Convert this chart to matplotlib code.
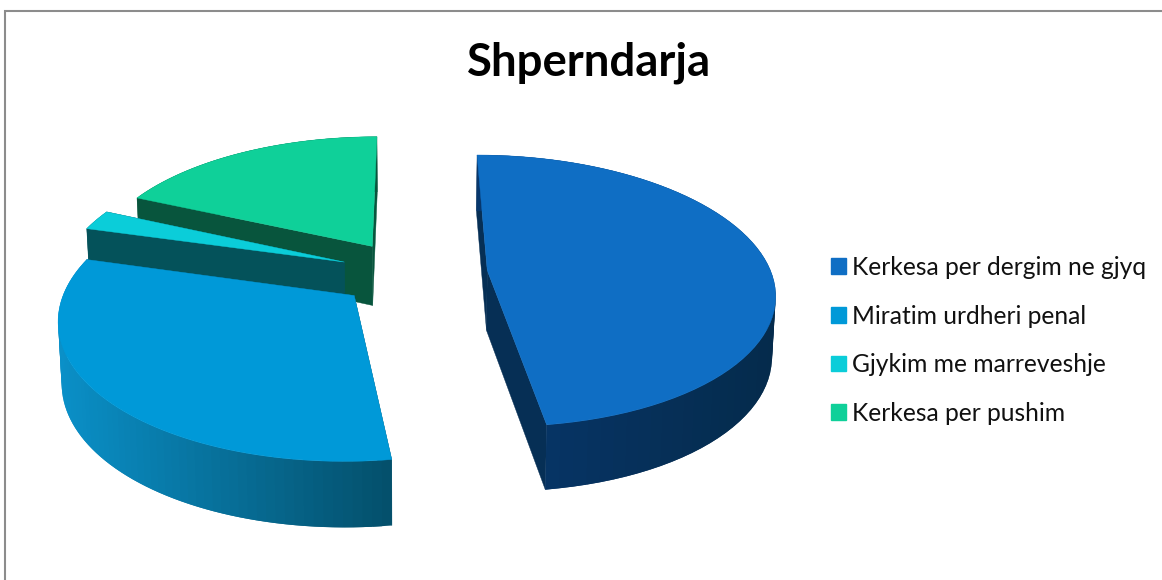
import matplotlib
matplotlib.use("Agg")
import matplotlib.pyplot as plt
import numpy as np
from matplotlib.colors import to_rgb
from matplotlib.patches import Patch, Polygon

plt.rcParams["font.family"] = ["Lato", "DejaVu Sans"]

# chart data
labels = ["Kerkesa per dergim ne gjyq", "Miratim urdheri penal", "Gjykim me marreveshje", "Kerkesa per pushim"]
values = [47.8, 31.5, 2.4, 18.3]

# look of the slices
top_colors = ["#0f6ec4", "#0099d8", "#0bcdd9", "#0fd099"]
cut_colors = ["#062f55", "#04526a", "#04525a", "#08553d"]
side_left = ["#07376d", "#0a90c8", "#04525a", "#08553d"]
side_right = ["#052b4c", "#04506c", "#04525a", "#08553d"]
explode = [0.277, 0.25, 0.245, 0.245]

# fake 3d camera, all in pixels
CX, CY = 409, 273
R = 284
TILT = 0.47
PERSP = 0.15
DEPTH = 60
START = 0.0


def project(u, v, bottom=False):
    """Pie plane (u right, v back, unit = radius) to screen pixels."""
    s = 1 / (1 + PERSP * v)
    x = CX + R * u * s
    y = CY - R * TILT * v * s
    if bottom:
        x = CX + (x - CX) * 0.99
        y = y + DEPTH * np.sqrt(s)
    return x, y


def draw_slice(ax, i, a0, a1):
    mid = np.radians((a0 + a1) / 2)
    ou, ov = explode[i] * np.sin(mid), explode[i] * np.cos(mid)
    th = np.radians(np.linspace(a0, a1, 70))
    ru, rv = ou + np.sin(th), ov + np.cos(th)

    tx, ty = project(ru, rv)
    bx, by = project(ru, rv, bottom=True)
    ax_t, ay_t = project(ou, ov)
    ax_b, ay_b = project(ou, ov, bottom=True)

    # cut walls
    for k in (0, -1):
        pts = [(ax_t, ay_t), (tx[k], ty[k]), (bx[k], by[k]), (ax_b, ay_b)]
        ax.add_patch(Polygon(pts, closed=True, fc=cut_colors[i], ec=cut_colors[i], lw=0.3))

    # outer wall, shaded from left to right, each quad overlaps the next
    c0, c1 = np.array(to_rgb(side_left[i])), np.array(to_rgb(side_right[i]))
    for j in range(len(th) - 1):
        f = (tx[j] - tx.min()) / (tx.max() - tx.min())
        col = c0 + (c1 - c0) * f
        e = min(j + 2, len(th) - 1)
        pts = [(tx[j], ty[j]), (tx[e], ty[e]), (bx[e], by[e]), (bx[j], by[j])]
        ax.add_patch(Polygon(pts, closed=True, fc=col, ec="none"))

    # top face
    pts = [(ax_t, ay_t)] + list(zip(tx, ty))
    ax.add_patch(Polygon(pts, closed=True, fc=top_colors[i], ec=top_colors[i], lw=0.3))


fig = plt.figure(figsize=(11.62, 5.80), dpi=100)
ax = fig.add_axes([0, 0, 1, 1])
ax.set_xlim(0, 1162)
ax.set_ylim(580, 0)
ax.axis("off")

# chart border, only left and top show in the crop
ax.plot([5, 5, 1162], [580, 11, 11], color="#8c8c8c", lw=1.5, solid_joinstyle="miter")

edges = START + np.cumsum([0] + values) * 360 / sum(values)
for i in [3, 2, 1, 0]:
    draw_slice(ax, i, edges[i], edges[i + 1])

ax.text(589, 63, "Shperndarja", ha="center", va="center", fontsize=32.8, fontweight="bold", color="black")

handles = [Patch(color=c) for c in top_colors]
ax.legend(handles, labels, loc="upper left", bbox_to_anchor=(831 / 1162, 1 - 256 / 580), frameon=False,
          fontsize=17.7, handlelength=0.61, handleheight=0.61, handletextpad=0.25,
          labelspacing=1.04, borderpad=0, borderaxespad=0, labelcolor="#111111")

fig.savefig("out.png", dpi=100)
